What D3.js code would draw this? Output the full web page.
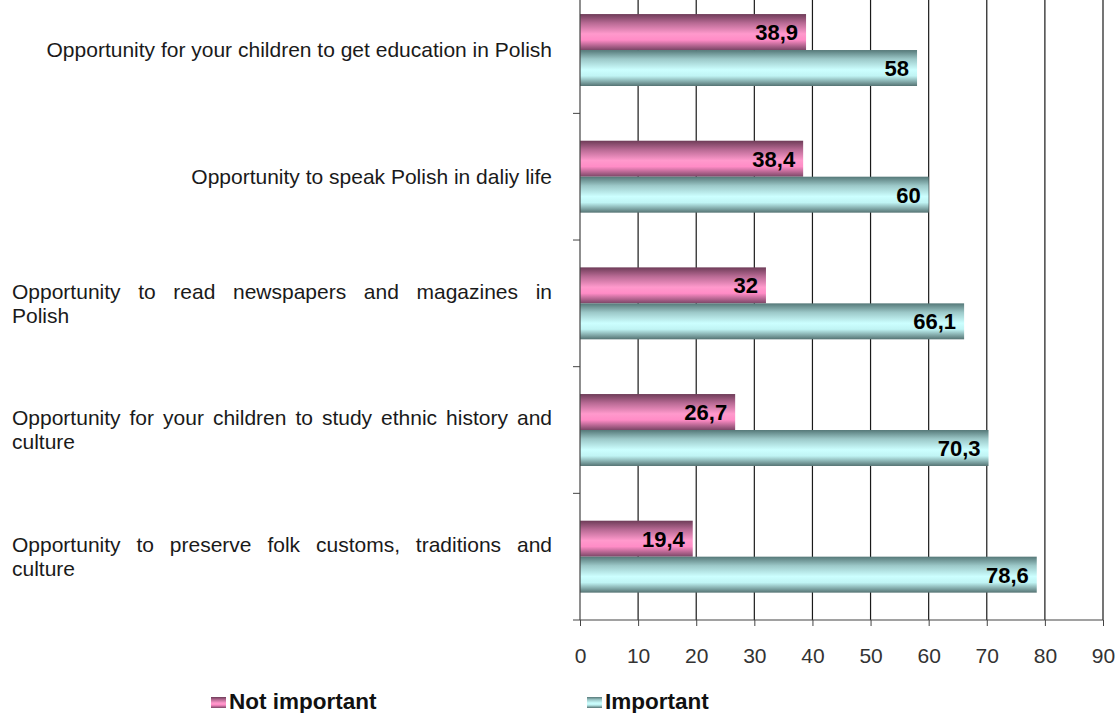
<!DOCTYPE html>
<html>
<head>
<meta charset="utf-8">
<script src="https://cdn.jsdelivr.net/npm/d3@7"></script>
<style>
  body { margin: 0; background: #fff; }
  text { font-family: "Liberation Sans", Arial, sans-serif; }
</style>
</head>
<body>
<div id="viz"></div>
<script>
const width = 1115;
const height = 713;
const margin = {top: -13.3, right: 12, bottom: 93, left: 580};

// category labels, already split in lines as in the picture
const categoryLines = [
  ['Opportunity for your children to get education in Polish'],
  ['Opportunity to speak Polish in daliy life'],
  ['Opportunity to read newspapers and magazines in', 'Polish'],
  ['Opportunity for your children to study ethnic history and', 'culture'],
  ['Opportunity to preserve folk customs, traditions and', 'culture']
];
const categories = categoryLines.map(l => l.join(' '));
const seriesKeys = ['Not important', 'Important'];
const notImportant = [38.9, 38.4, 32, 26.7, 19.4];
const important = [58, 60, 66.1, 70.3, 78.6];
const xTicks = [0, 10, 20, 30, 40, 50, 60, 70, 80, 90];

const data = categories.map((c, i) => ({
  category: c,
  lines: categoryLines[i],
  values: [
    {key: 'Not important', value: notImportant[i]},
    {key: 'Important', value: important[i]}
  ]
}));

const svg = d3.select('#viz')
  .append('svg')
    .attr('width', width)
    .attr('height', height);

// gradients (cylinder look)
const defs = svg.append('defs');
const gradStops = {
  'Not important': ['#6e3c58', '#b86a94', '#ff99cc', '#ff8cc6', '#7a4666'],
  'Important': ['#557878', '#9cc8c8', '#ccffff', '#c0f4f4', '#557373']
};
seriesKeys.forEach((k, i) => {
  const g = defs.append('linearGradient')
    .attr('id', 'grad' + i)
    .attr('x1', 0).attr('x2', 0).attr('y1', 0).attr('y2', 1);
  const offs = [0, 0.25, 0.55, 0.72, 1];
  gradStops[k].forEach((c, j) => g.append('stop').attr('offset', offs[j]).attr('stop-color', c));
});

const scaleX = d3.scaleLinear()
  .domain([0, 90])
  .range([margin.left, width - margin.right]);

const scaleY = d3.scaleBand()
  .domain(categories)
  .range([margin.top, height - margin.bottom])
  .paddingInner(0.432)
  .paddingOuter(0.216);

const scaleSub = d3.scaleBand()
  .domain(seriesKeys)
  .range([0, scaleY.bandwidth()]);

const plotBottom = height - margin.bottom;
const step = scaleY.step();

// vertical gridlines
svg.append('g')
  .selectAll('line')
  .data(xTicks.slice(1))
  .join('line')
    .attr('x1', d => scaleX(d))
    .attr('x2', d => scaleX(d))
    .attr('y1', 0)
    .attr('y2', plotBottom)
    .attr('stroke', '#1a1a1a')
    .attr('stroke-width', 1.2);

// bars
const groups = svg.append('g')
  .selectAll('g')
  .data(data)
  .join('g')
    .attr('transform', d => `translate(0,${scaleY(d.category)})`);

groups.selectAll('rect')
  .data(d => d.values)
  .join('rect')
    .attr('x', scaleX(0))
    .attr('y', d => scaleSub(d.key))
    .attr('width', d => scaleX(d.value) - scaleX(0))
    .attr('height', scaleSub.bandwidth())
    .attr('fill', (d, i) => `url(#grad${i})`);

groups.selectAll('text.val')
  .data(d => d.values)
  .join('text')
    .attr('class', 'val')
    .attr('x', d => scaleX(d.value) - 8)
    .attr('y', d => scaleSub(d.key) + scaleSub.bandwidth() / 2)
    .attr('dy', '0.36em')
    .attr('text-anchor', 'end')
    .style('font-size', '22px')
    .style('font-weight', 700)
    .attr('fill', '#000')
    .text(d => String(d.value).replace('.', ','));

// x axis
const axisBottom = d3.axisBottom(scaleX)
  .tickValues(xTicks)
  .tickSize(6)
  .tickPadding(22)
  .tickSizeOuter(0);
const xAxis = svg.append('g')
  .attr('transform', `translate(0,${plotBottom})`)
  .call(axisBottom);
xAxis.select('.domain').remove();
xAxis.append('line')
  .attr('x1', scaleX(0) - 7).attr('x2', scaleX(90))
  .attr('stroke', '#444').attr('stroke-width', 1.2);
xAxis.selectAll('.tick line').attr('stroke', '#444');
xAxis.selectAll('.tick text')
  .style('font-size', '21px')
  .style('font-family', '"Liberation Sans", Arial, sans-serif')
  .attr('fill', '#333');

// y axis line and ticks between categories
svg.append('line')
  .attr('x1', scaleX(0)).attr('x2', scaleX(0))
  .attr('y1', 0).attr('y2', plotBottom)
  .attr('stroke', '#444').attr('stroke-width', 1.2);
svg.append('g')
  .selectAll('line')
  .data(categories.slice(1))
  .join('line')
    .attr('x1', scaleX(0) - 7).attr('x2', scaleX(0))
    .attr('y1', d => scaleY(d) - scaleY.paddingOuter() * step)
    .attr('y2', d => scaleY(d) - scaleY.paddingOuter() * step)
    .attr('stroke', '#444');

// category labels, justified like the original
const labelLeft = 12;
const labelRight = 552;
const lineGap = 24;
const labelSize = '21px';
data.forEach(d => {
  const cy = scaleY(d.category) + scaleY.bandwidth() / 2;
  const n = d.lines.length;
  d.lines.forEach((line, li) => {
    const y = cy + (li - (n - 1) / 2) * lineGap;
    const justify = n > 1 && li < n - 1;
    if (!justify) {
      const t = svg.append('text')
        .attr('y', y).attr('dy', '0.35em')
        .style('font-size', labelSize)
        .attr('fill', '#1a1a1a')
        .text(line);
      if (n > 1) t.attr('x', labelLeft);
      else t.attr('x', labelRight).attr('text-anchor', 'end');
      return;
    }
    const words = line.split(' ');
    const nodes = words.map(w => svg.append('text')
      .attr('y', y).attr('dy', '0.35em')
      .style('font-size', labelSize)
      .attr('fill', '#1a1a1a')
      .text(w));
    const widths = nodes.map(t => t.node().getComputedTextLength());
    const gap = (labelRight - labelLeft - d3.sum(widths)) / (words.length - 1);
    let x = labelLeft;
    nodes.forEach((t, i) => {
      t.attr('x', x);
      x += widths[i] + gap;
    });
  });
});

// legend
const legendItems = [
  {key: 'Not important', x: 211},
  {key: 'Important', x: 587}
];
const legend = svg.append('g')
  .selectAll('g')
  .data(legendItems)
  .join('g')
    .attr('transform', d => `translate(${d.x},${height - 4})`);
legend.append('rect')
  .attr('x', 0).attr('y', -12)
  .attr('width', 15).attr('height', 11)
  .attr('fill', (d, i) => `url(#grad${i})`);
legend.append('text')
  .attr('x', 18)
  .attr('y', 0)
  .style('font-size', '22.5px')
  .style('font-weight', 700)
  .attr('fill', '#111')
  .text(d => d.key);
</script>
</body>
</html>
